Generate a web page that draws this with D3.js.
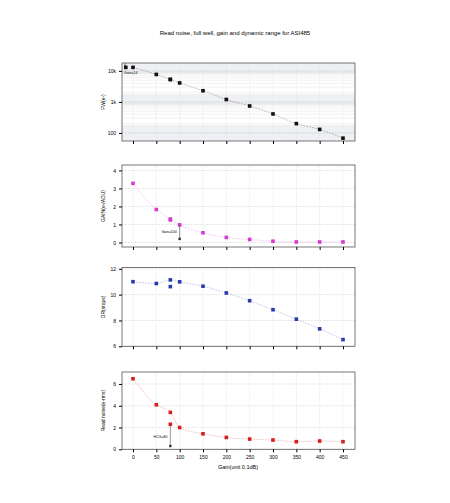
<!DOCTYPE html><html><head><script src="https://cdn.jsdelivr.net/npm/d3@7"></script>
<style>body{margin:0;background:#fff}text{font-family:"Liberation Sans",Arial,sans-serif}</style></head><body><svg id="c" width="450" height="503"></svg><script>
const gains=[0,50,80,80,100,150,200,250,300,350,400,450];
const fullWell=[13000,7700,5300,5300,4100,2300,1200,740,410,200,130,68];
const gainVals=[3.28,1.83,1.3,1.25,0.98,0.54,0.28,0.17,0.07,0.03,0.03,0.03];
const drVals=[11.0,10.86,11.14,10.62,10.99,10.65,10.13,9.53,8.83,8.1,7.35,6.52];
const rnVals=[6.48,4.09,3.39,2.3,2.0,1.42,1.09,0.94,0.85,0.7,0.76,0.7];
const xTicks=[0,50,100,150,200,250,300,350,400,450];
const svg=d3.select("#c");
const x=d3.scaleLinear().domain([0,450]).range([133,343]);
const L=122,R=355;
svg.append("text").attr("x",235).attr("y",35).attr("text-anchor","middle").attr("font-size",6).text("Read noise, full well, gain and dynamic range for ASI485");
const panels=[
 {vals:fullWell,y:d3.scaleLog().domain([55,18000]).range([141,63]),ticks:[100,1000,10000],fmt:d=>d>=1000?(d/1000)+"k":d,color:"#111",label:"FW(e-)",log:true},
 {vals:gainVals,y:d3.scaleLinear().domain([-0.25,4.3]).range([247,165]),ticks:[0,1,2,3,4],fmt:d=>d,color:"#d23cd2",label:"GAIN(e-/ADU)"},
 {vals:drVals,y:d3.scaleLinear().domain([6,12.1]).range([346.3,267.5]),ticks:[6,8,10,12],fmt:d=>d,color:"#2a3aa8",label:"DR(stops)"},
 {vals:rnVals,y:d3.scaleLinear().domain([0,7.1]).range([449.3,372]),ticks:[0,2,4,6],fmt:d=>d,color:"#d42020",label:"Read noise(e-rms)"}];
panels.forEach((p,i)=>{
 const [b,t]=p.y.range();
 const g=svg.append("g");
 if(p.log){[[8000,18000],[800,1800],[55,180]].forEach(([a,c])=>g.append("rect").attr("x",L).attr("width",R-L).attr("y",p.y(c)).attr("height",p.y(a)-p.y(c)).attr("fill","#eef0f3"));
  d3.range(1,10).forEach(m=>[100,1000,10000].forEach(dd=>{const v=m*dd/ (m==1?1:1);if(v>55&&v<18000)g.append("line").attr("x1",L).attr("x2",R).attr("y1",p.y(v)).attr("y2",p.y(v)).attr("stroke","#ddd").attr("stroke-width",0.4);}));}
 p.ticks.forEach(v=>g.append("line").attr("x1",L).attr("x2",R).attr("y1",p.y(v)).attr("y2",p.y(v)).attr("stroke","#ccc").attr("stroke-width",0.5).attr("stroke-dasharray","2,1"));
 xTicks.forEach(v=>g.append("line").attr("x1",x(v)).attr("x2",x(v)).attr("y1",t).attr("y2",b).attr("stroke","#e2e2e2").attr("stroke-width",0.4));
 g.append("rect").attr("x",L).attr("y",t).attr("width",R-L).attr("height",b-t).attr("fill","none").attr("stroke","#555").attr("stroke-width",0.8);
 g.append("g").attr("transform",`translate(${L},0)`).call(d3.axisLeft(p.y).tickValues(p.ticks).tickFormat(p.fmt).tickSize(3)).call(a=>{a.select(".domain").remove();a.selectAll("text").attr("font-size",5);});
 g.append("g").attr("transform",`translate(0,${b})`).call(d3.axisBottom(x).tickValues(xTicks).tickFormat(i==3?(d=>d):"").tickSize(3)).call(a=>{a.select(".domain").remove();a.selectAll("text").attr("font-size",5);});
 g.append("text").attr("transform",`translate(${L-17},${(t+b)/2}) rotate(-90)`).attr("text-anchor","middle").attr("font-size",5).text(p.label);
 const idx=gains.map((d,j)=>j).filter(j=>j!=3);
 g.append("path").attr("d",d3.line().x(j=>x(gains[j])).y(j=>p.y(p.vals[j])).curve(d3.curveMonotoneX)(idx)).attr("fill","none").attr("stroke",p.color).attr("stroke-opacity",0.35).attr("stroke-width",0.7).attr("stroke-dasharray","2,1");
 g.selectAll("rect.pt").data(gains).join("rect").attr("class","pt").attr("x",d=>x(d)-1.8).attr("y",(d,j)=>p.y(p.vals[j])-1.8).attr("width",3.6).attr("height",3.6).attr("fill",p.color);
});
// annotations
const p0=panels[0];
svg.append("rect").attr("x",124).attr("y",p0.y(13000)-1.8).attr("width",3.6).attr("height",3.6).attr("fill","#111");
svg.append("text").attr("x",124).attr("y",p0.y(13000)+7).attr("font-size",3.5).text("Gain=14");
svg.append("text").attr("x",124).attr("y",66).attr("font-size",3.5).text("4");
const p1=panels[1];
svg.append("line").attr("x1",x(100)).attr("x2",x(100)).attr("y1",p1.y(0.95)).attr("y2",p1.y(0.2)).attr("stroke","#333").attr("stroke-width",0.5);
svg.append("rect").attr("x",x(100)-1.2).attr("y",p1.y(0.2)-1.2).attr("width",2.4).attr("height",2.4).attr("fill","#333");
svg.append("text").attr("x",x(100)-3).attr("y",p1.y(0.55)).attr("text-anchor","end").attr("font-size",3.5).text("Gain=100");
const p3=panels[3];
svg.append("line").attr("x1",x(80)).attr("x2",x(80)).attr("y1",p3.y(2.3)).attr("y2",p3.y(0.3)).attr("stroke","#333").attr("stroke-width",0.5);
svg.append("rect").attr("x",x(80)-1.2).attr("y",p3.y(0.3)-1.2).attr("width",2.4).attr("height",2.4).attr("fill","#333");
svg.append("text").attr("x",x(80)-3).attr("y",p3.y(1.05)).attr("text-anchor","end").attr("font-size",3.5).text("HCG=80");
svg.append("text").attr("x",238).attr("y",469).attr("text-anchor","middle").attr("font-size",5.5).text("Gain(unit 0.1dB)");
</script></body></html>
